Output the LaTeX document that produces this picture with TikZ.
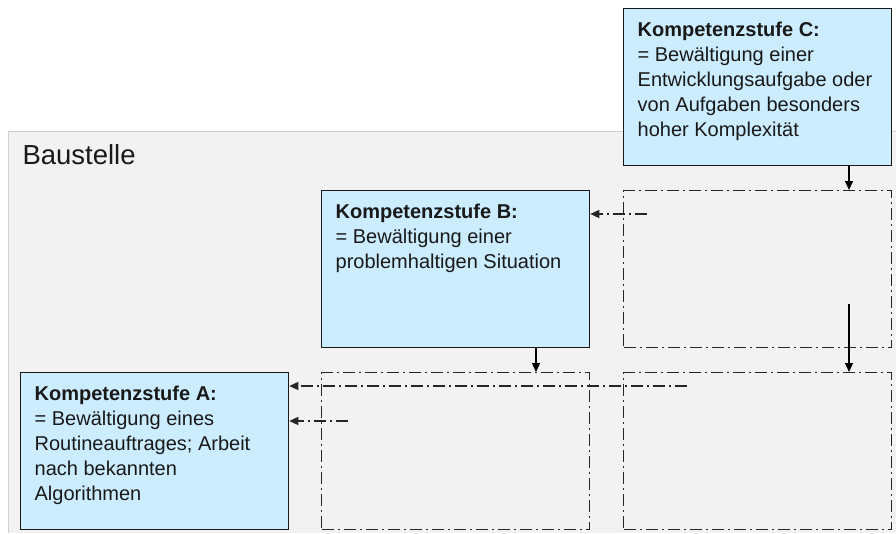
\documentclass[tikz,border=0pt]{standalone}
\usepackage{fontspec}
\setmainfont{Liberation Sans}
\usetikzlibrary{arrows.meta, positioning}
\definecolor{stufeblau}{HTML}{CCECFF}
\definecolor{baugrau}{HTML}{F2F2F2}
\definecolor{randgrau}{HTML}{D0D0D0}
\tikzstyle{stufe} = [rectangle, anchor = north west, minimum width = 268pt, minimum
height = 157pt, inner sep = 0pt, draw = black!90, line width = 1.3pt, fill = stufeblau,
text = black!90, font = \fontsize{20}{25}\selectfont]
\tikzstyle{feld} = [rectangle, anchor = north west, minimum width = 268pt, minimum
height = 157pt, inner sep = 0pt, draw = black!85, line width = 1.4pt,
dash pattern = on 12pt off 4pt on 2pt off 4pt]
\tikzstyle{arrow} = [line width = 1.3pt, -{Triangle[length = 9pt, width = 8pt]}]
\tikzstyle{rueck} = [arrow, draw = black!85, line width = 1.4pt, dash pattern = on 12pt off 4pt on 2pt off 4pt]
\newcommand{\stufentext}[1]{\parbox[c][157pt][t]{240pt}{\raggedright\rule{0pt}{28pt}#1}}

\begin{document}
\begin{tikzpicture}[x = 1pt, y = -1pt]

    \useasboundingbox (0,0) rectangle (896,533);
    \fill[baugrau] (8,131) rectangle (896,533);
    \draw[randgrau, line width = 1pt] (8,533) -- (8,131) -- (896,131);
    \node (baustelle) [anchor = base west, text = black!90, font = \fontsize{27.5}{33}\selectfont] at (19,164) {Baustelle};

    \node (stufeC) [stufe] at (623,8) {\stufentext{\textbf{Kompetenzstufe C:}\\ = Bewältigung einer\\ Entwicklungsaufgabe oder\\ von Aufgaben besonders\\ hoher Komplexität}};
    \node (stufeB) [stufe] at (321,190) {\stufentext{\textbf{Kompetenzstufe B:}\\ = Bewältigung einer\\ problemhaltigen Situation}};
    \node (stufeA) [stufe] at (20,372) {\stufentext{\textbf{Kompetenzstufe A:}\\ = Bewältigung eines\\ Routineauftrages; Arbeit\\ nach bekannten\\ Algorithmen}};

    \node (leerOben) [feld] at (623,190) {};
    \node (leerMitte) [feld] at (321,372) {};
    \node (leerRechts) [feld] at (623,372) {};

    \coordinate (pfeilC) at (849,304);
    \coordinate (pfeilB) at (536,360);
    \coordinate (rueckB) at (647,214);
    \coordinate (rueckA) at (687,386);
    \coordinate (rueckAkurz) at (348,421);

    \draw[arrow] (stufeC.south -| pfeilC) -- (leerOben.north -| pfeilC);
    \draw[arrow] (pfeilC) -- (leerRechts.north -| pfeilC);
    \draw[arrow] (stufeB.south -| pfeilB) -- (leerMitte.north -| pfeilB);
    \draw[rueck] (rueckB) -- (rueckB -| stufeB.east);
    \draw[rueck] (rueckA) -- (rueckA -| stufeA.east);
    \draw[rueck] (rueckAkurz) -- (rueckAkurz -| stufeA.east);

\end{tikzpicture}
\end{document}
